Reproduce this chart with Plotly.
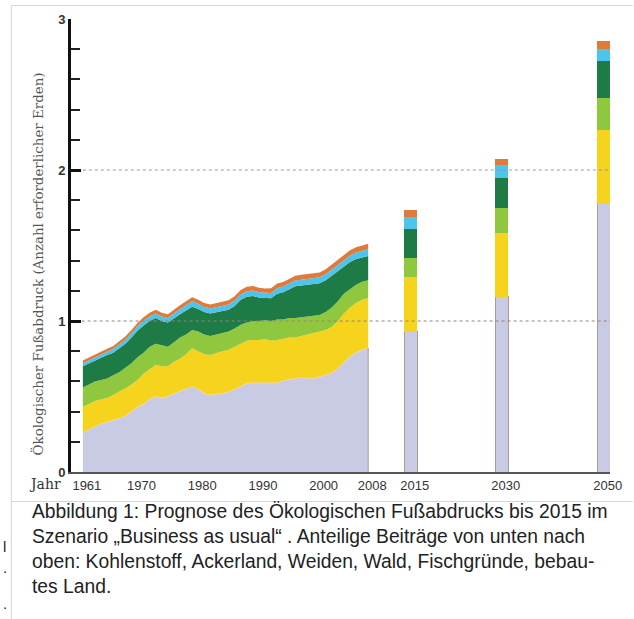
import plotly.graph_objects as go

# ---------------- data ----------------
years = list(range(1961, 2009))

carbon = [0.26, 0.28, 0.30, 0.32, 0.33, 0.34, 0.355, 0.37, 0.40, 0.43,
          0.45, 0.48, 0.50, 0.49, 0.50, 0.52, 0.535, 0.55, 0.565, 0.55,
          0.52, 0.51, 0.515, 0.52, 0.53, 0.55, 0.57, 0.585, 0.59, 0.59,
          0.595, 0.59, 0.59, 0.605, 0.615, 0.62, 0.625, 0.62, 0.62, 0.63,
          0.64, 0.655, 0.685, 0.725, 0.765, 0.79, 0.81, 0.82]
cropland = [0.17, 0.17, 0.17, 0.16, 0.16, 0.17, 0.175, 0.185, 0.18, 0.18,
            0.20, 0.20, 0.21, 0.21, 0.20, 0.21, 0.215, 0.23, 0.255, 0.25,
            0.26, 0.265, 0.275, 0.28, 0.28, 0.28, 0.285, 0.285, 0.285, 0.285,
            0.285, 0.28, 0.285, 0.275, 0.275, 0.27, 0.275, 0.29, 0.30, 0.30,
            0.30, 0.305, 0.315, 0.325, 0.325, 0.33, 0.33, 0.33]
grazing = [0.13, 0.13, 0.13, 0.13, 0.13, 0.13, 0.13, 0.135, 0.14, 0.15,
           0.14, 0.15, 0.14, 0.14, 0.13, 0.13, 0.14, 0.13, 0.12, 0.13,
           0.13, 0.125, 0.12, 0.12, 0.12, 0.12, 0.12, 0.12, 0.125, 0.125,
           0.125, 0.13, 0.135, 0.13, 0.13, 0.13, 0.125, 0.12, 0.115, 0.11,
           0.12, 0.13, 0.13, 0.13, 0.12, 0.12, 0.12, 0.12]
forest = [0.14, 0.14, 0.14, 0.15, 0.155, 0.15, 0.16, 0.16, 0.17, 0.175,
          0.18, 0.17, 0.17, 0.16, 0.16, 0.16, 0.155, 0.16, 0.155, 0.15,
          0.15, 0.15, 0.15, 0.145, 0.145, 0.15, 0.165, 0.17, 0.165, 0.155,
          0.145, 0.15, 0.17, 0.18, 0.19, 0.21, 0.21, 0.21, 0.21, 0.21,
          0.21, 0.21, 0.20, 0.18, 0.18, 0.17, 0.16, 0.16]
fishing = [0.02, 0.02, 0.02, 0.022, 0.022, 0.024, 0.025, 0.026, 0.028, 0.03,
           0.032, 0.03, 0.03, 0.03, 0.03, 0.032, 0.033, 0.034, 0.035, 0.034,
           0.033, 0.032, 0.032, 0.033, 0.034, 0.035, 0.036, 0.037, 0.037, 0.036,
           0.036, 0.036, 0.037, 0.038, 0.038, 0.038, 0.039, 0.038, 0.038, 0.039,
           0.039, 0.04, 0.04, 0.041, 0.042, 0.043, 0.044, 0.045]
built = [0.018, 0.018, 0.019, 0.019, 0.02, 0.02, 0.021, 0.021, 0.022, 0.022,
         0.023, 0.024, 0.024, 0.024, 0.025, 0.025, 0.026, 0.026, 0.027, 0.027,
         0.027, 0.027, 0.028, 0.028, 0.028, 0.029, 0.029, 0.03, 0.03, 0.03,
         0.03, 0.031, 0.031, 0.031, 0.032, 0.032, 0.032, 0.033, 0.033, 0.033,
         0.034, 0.034, 0.035, 0.035, 0.036, 0.036, 0.037, 0.037]

# projections ("Business as usual")
proj_years = [2015, 2030, 2050]
proj_carbon = [0.93, 1.16, 1.775]
proj_cropland = [0.36, 0.42, 0.49]
proj_grazing = [0.13, 0.17, 0.215]
proj_forest = [0.19, 0.20, 0.24]
proj_fishing = [0.08, 0.08, 0.08]
proj_built = [0.045, 0.04, 0.055]

tick_years = [1961, 1970, 1980, 1990, 2000, 2008, 2015, 2030, 2050]
tick_labels = ["1961", "1970", "1980", "1990", "2000", "2008", "2015", "2030", "2050"]
y_ticks = [0, 1, 2, 3]

names = ["Kohlenstoff", "Ackerland", "Weiden", "Wald", "Fischgründe", "bebautes Land"]
colors = ["#c9cae4", "#f6d31c", "#8fc73e", "#1e7b45", "#4cc4ec", "#e07a3a"]


# broken time scale of the original: after 2030 the axis is compressed
def tscale(y):
    return y if y <= 2030 else 2030 + (y - 2030) * 0.84


fig = go.Figure()

hist = [carbon, cropland, grazing, forest, fishing, built]
for i, (vals, name, col) in enumerate(zip(hist, names, colors)):
    fig.add_trace(go.Scatter(
        x=years, y=vals, name=name, stackgroup="hist", mode="lines",
        line=dict(width=1 if i == 0 else 0, color="#f0d6a6" if i == 0 else col),
        fillcolor=col, hoverinfo="skip", showlegend=False))

# right edge of the historical area
fig.add_trace(go.Scatter(x=[years[-1], years[-1]], y=[0, carbon[-1]], mode="lines",
                         line=dict(color="#a89f8e", width=1), showlegend=False,
                         hoverinfo="skip"))

proj = [proj_carbon, proj_cropland, proj_grazing, proj_forest, proj_fishing, proj_built]
bar_x = [tscale(y) for y in proj_years]
for i, (vals, name, col) in enumerate(zip(proj, names, colors)):
    fig.add_trace(go.Bar(
        x=bar_x, y=vals, width=2.1, name=name,
        marker=dict(color=col, line=dict(color="#a89f8e" if i == 0 else col,
                                         width=1 if i == 0 else 0)),
        showlegend=False, hoverinfo="skip"))

L, R, T, B = 71, 17, 19, 147
W, H = 634, 619
pw, ph = W - L - R, H - T - B


def xp(px):
    return (px - L) / pw


def yp(py):
    return (H - B - py) / ph


shapes = [
    # reference lines
    dict(type="line", xref="x", yref="y", x0=1960.8, x1=tscale(2050) + 1.05, y0=1, y1=1,
         line=dict(color="#9a7f7f", width=1, dash="dot"), layer="above"),
    dict(type="line", xref="x", yref="y", x0=1961.0, x1=tscale(2050) + 1.05, y0=2, y1=2,
         line=dict(color="#9a9a9a", width=1, dash="dot"), layer="above"),
    # frame
    dict(type="line", xref="paper", yref="paper", x0=xp(10.5), x1=xp(640), y0=yp(5.5), y1=yp(5.5),
         line=dict(color="#d6d6d6", width=1)),
    dict(type="line", xref="paper", yref="paper", x0=xp(10.5), x1=xp(10.5), y0=yp(5.5), y1=yp(625),
         line=dict(color="#d6d6d6", width=1)),
    dict(type="line", xref="paper", yref="paper", x0=xp(10.5), x1=xp(640), y0=yp(501.5), y1=yp(501.5),
         line=dict(color="#d6d6d6", width=1)),
]

annotations = [
    dict(text="Ökologischer Fußabdruck (Anzahl erforderlicher Erden)", textangle=-90,
         xref="paper", yref="paper", x=xp(38), y=yp(264), showarrow=False,
         xanchor="center", yanchor="middle",
         font=dict(family="DejaVu Serif", size=13.4, color="#555555")),
    dict(text="Jahr", xref="paper", yref="paper", x=xp(45), y=yp(484), showarrow=False,
         xanchor="center", yanchor="middle",
         font=dict(family="DejaVu Serif", size=14, color="#333333")),
    dict(text=("Abbildung 1: Prognose des Ökologischen Fußabdrucks bis 2015 im<br>"
               "Szenario „Business as usual“ . Anteilige Beiträge von unten nach<br>"
               "oben: Kohlenstoff, Ackerland, Weiden, Wald, Fischgründe, bebau-<br>"
               "tes Land."),
         xref="paper", yref="paper", x=xp(29), y=yp(499), showarrow=False,
         xanchor="left", yanchor="top", align="left",
         font=dict(family="Liberation Sans", size=19.3, color="#222222")),
]
for py, t in [(546, "l"), (567, "."), (603, ".")]:
    annotations.append(dict(text=t, xref="paper", yref="paper", x=xp(0), y=yp(py),
                            showarrow=False, xanchor="left", yanchor="middle",
                            font=dict(family="Liberation Sans", size=15, color="#222222")))

fig.update_layout(
    width=W, height=H, margin=dict(l=L, r=R, t=T, b=B, pad=0),
    paper_bgcolor="white", plot_bgcolor="white",
    barmode="stack", showlegend=False,
    shapes=shapes, annotations=annotations,
    xaxis=dict(range=[1961 - 12 / 6.15, 1961 + 534 / 6.15],
               tickvals=[tscale(y) for y in tick_years], ticktext=tick_labels,
               ticks="", showgrid=False, zeroline=False, ticklabelshift=4,
               showline=True, linecolor="#555555", linewidth=2,
               tickfont=dict(family="Liberation Sans", size=13, color="#333333")),
    yaxis=dict(range=[0, 3], tickvals=y_ticks, ticks="inside", ticklen=10, tickwidth=3,
               tickcolor="#111111", showgrid=False, zeroline=False,
               showline=True, linecolor="#111111", linewidth=3,
               minor=dict(dtick=0.2, ticks="inside", ticklen=9, tickwidth=2,
                          tickcolor="#222222", showgrid=False),
               tickfont=dict(family="Liberation Sans", size=13, color="#333333", weight="bold")),
)

fig.write_html("out.html", config={"displayModeBar": False},
               post_script="document.body.style.margin='0px';document.body.style.overflow='hidden';")
